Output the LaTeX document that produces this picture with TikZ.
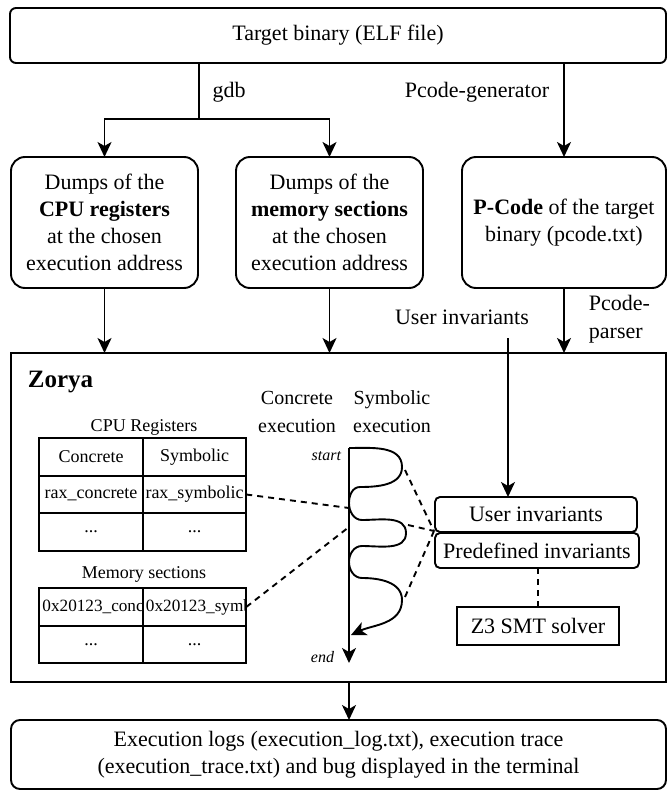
\documentclass[tikz,border=0pt]{standalone}
\usepackage{fontspec}
\setmainfont{Liberation Serif}
\usetikzlibrary{arrows.meta}
\begin{document}
\begin{tikzpicture}[x=1pt,y=-1pt,line width=1.9pt,
  arr/.style={-{Stealth[length=15pt,width=14pt,inset=4pt]}},
  dsh/.style={dashed,dash pattern=on 6pt off 5pt},
  big/.style={font=\fontsize{22}{27}\selectfont},
  mid/.style={font=\fontsize{20}{28}\selectfont},
  small/.style={font=\fontsize{18}{22}\selectfont},
  rbox/.style={draw,rounded corners=#1,inner sep=0,outer sep=0,align=center,big},
  rbox/.default=6pt,
  sbox/.style={draw,inner sep=0,outer sep=0,align=center,big},
  cell/.style={draw,minimum width=103.5,minimum height=37.5,inner sep=0,outer sep=0,small},
  lbl/.style={inner sep=0,big}]
\useasboundingbox (0,0) rectangle (667,791);
% top box
\node[rbox=6pt,minimum width=656,minimum height=55] (top) at (338,35.5) {Target binary (ELF file)};
% three boxes
\node[rbox=14pt,minimum width=187,minimum height=131] (b1) at (104.5,222.5) {Dumps of the\\\textbf{CPU registers}\\at the chosen\\execution address};
\node[rbox=14pt,minimum width=187,minimum height=131] (b2) at (329.5,222.5) {Dumps of the\\\textbf{memory sections}\\at the chosen\\execution address};
\node[rbox=14pt,minimum width=204,minimum height=131] (b3) at (564,222.5) {\textbf{P-Code} of the target\\binary (pcode.txt)};
% zorya box
\node[sbox,minimum width=655,minimum height=329] (zor) at (338.5,517.5) {};
% output box
\node[rbox=9pt,minimum width=655,minimum height=69] (out) at (338.5,754.5) {Execution logs (execution\_log.txt), execution trace\\(execution\_trace.txt) and bug displayed in the terminal};
% gdb
\coordinate (g) at (199,119);
\draw (top.south -| g) -- (g);
\draw[arr] (g) -| (b1.north);
\draw[arr] (g) -| (b2.north);
\node[lbl] (gdbl) at (229,92) {gdb};
\draw[arr] (top.south -| b3.north) -- (b3.north);
\node[lbl] (pgl) at (477,92) {Pcode-generator};
% into zorya
\draw[arr] (b1.south) -- (b1.south |- zor.north);
\draw[arr] (b2.south) -- (b2.south |- zor.north);
\draw[arr] (b3.south) -- (b3.south |- zor.north);
\node[lbl] (uil) at (462,317) {User invariants};
\node[lbl,align=left,anchor=west,font=\fontsize{22}{28}\selectfont] (ppl) at (588,319) {Pcode-\\parser};
% zorya content
\node[inner sep=0,anchor=west,font=\bfseries\fontsize{25}{30}\selectfont] (zl) at (27,382) {Zorya};
\node[inner sep=0,small] (cpul) at (144,427) {CPU Registers};
\node[cell] (t11) at (91,457) {Concrete};
\node[cell] (t12) at (194.5,457) {Symbolic};
\node[cell] (t21) at (91,494.5) {rax\_concrete};
\node[cell] (t22) at (194.5,494.5) {};
\begin{scope}
\clip (t22.north west) rectangle (t22.south east);
\node[inner sep=0,small] at (194.5,494.5) {rax\_symbolic};
\end{scope}
\draw (t22.north west) rectangle (t22.south east);
\node[cell] (t31) at (91,532) {...};
\node[cell] (t32) at (194.5,532) {...};
\node[inner sep=0,small] (meml) at (144,574) {Memory sections};
\node[cell] (m11) at (91,607) {};
\node[cell] (m12) at (194.5,607) {};
\begin{scope}
\clip (m11.north west) rectangle (m11.south east);
\node[inner sep=0,font=\fontsize{17.2}{21}\selectfont,anchor=west] at (41.5,607) {0x20123\_conc};
\end{scope}
\begin{scope}
\clip (m12.north west) rectangle (m12.south east);
\node[inner sep=0,font=\fontsize{17.2}{21}\selectfont,anchor=west] at (145,607) {0x20123\_symb};
\end{scope}
\draw (m11.north west) rectangle (m11.south east);
\draw (m12.north west) rectangle (m12.south east);
\node[cell] (m21) at (91,644.5) {...};
\node[cell] (m22) at (194.5,644.5) {...};
% execution labels
\node[inner sep=0,align=center,mid] (cel) at (297,412) {Concrete\\execution};
\node[inner sep=0,align=center,mid] (sel) at (392,412) {Symbolic\\execution};
\coordinate (vs) at (349,448);
\coordinate (ve) at (349,663);
\draw[arr] (vs) -- (ve);
\node[inner sep=0,anchor=east,font=\itshape\fontsize{16}{19}\selectfont] (stl) at (342,456) {start};
\node[inner sep=0,anchor=east,font=\itshape\fontsize{16}{19}\selectfont] (enl) at (335,657) {end};
\coordinate (l1) at (402,467);
\coordinate (l2) at (406,533);
\coordinate (l3) at (402,600);
\draw[arr,line join=round] (vs) to[out=0,in=90] (l1) to[out=-90,in=0] (360,487)
  to[out=180,in=90] (349,503) to[out=-90,in=180] (362,520)
  to[out=0,in=90] (l2) to[out=-90,in=0] (362,546)
  to[out=180,in=90] (349,562) to[out=-90,in=180] (362,578)
  to[out=0,in=90] (l3) to[out=-90,in=25] (351,635);
% invariants
\node[rbox=5pt,minimum width=202,minimum height=35] (ui) at (536,514.5) {User invariants};
\node[rbox=5pt,minimum width=204,minimum height=35] (pi) at (537,550.5) {Predefined invariants};
\node[sbox,minimum width=162,minimum height=38] (z3) at (538,626) {Z3 SMT solver};
\coordinate (uis) at (508,338);
\draw[arr] (uis) -- (uis |- ui.north);
\draw[dsh] (pi.south -| z3.north) -- (z3.north);
\coordinate (jn) at (434,531);
\draw[dsh] (405,470) -- (jn);
\draw[dsh] (408,525) -- (jn);
\draw[dsh] (405,597) -- (jn);
\coordinate (d1) at (349,508);
\coordinate (d2) at (349,527);
\draw[dsh] (t22.east) -- (d1);
\draw[dsh] (m12.east) -- (d2);
% out arrow
\draw[arr] (zor.south -| vs) -- (out.north -| vs);
\end{tikzpicture}
\end{document}
